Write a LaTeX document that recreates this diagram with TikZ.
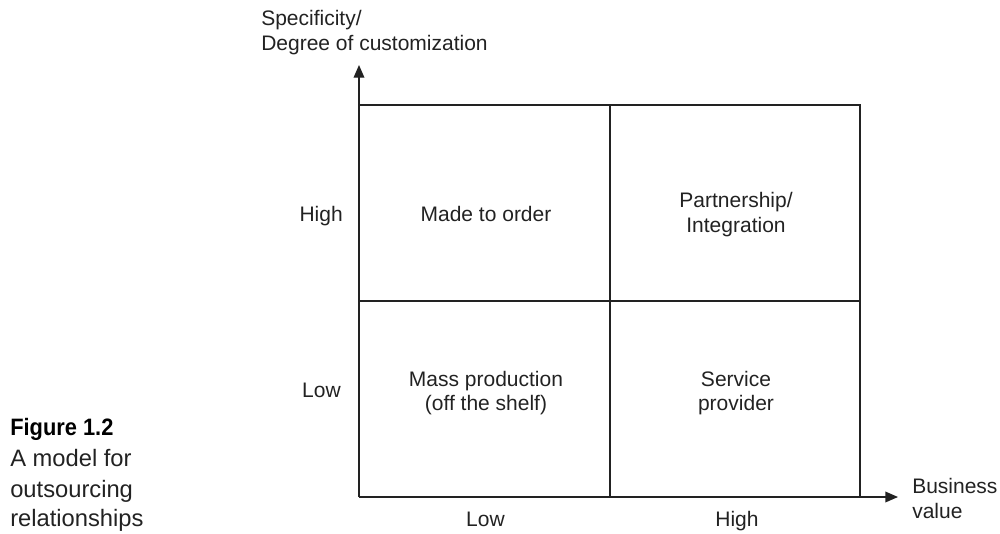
\documentclass[tikz,border=0pt]{standalone}
\usepackage{fontspec}
\setmainfont{Liberation Sans}
\newfontfamily\capfont{Liberation Sans}
\newfontfamily\capboldfont[FakeStretch=0.92]{Liberation Sans Bold}
\usetikzlibrary{arrows.meta}
\definecolor{ink}{HTML}{222222}
\definecolor{rule}{HTML}{222222}
\begin{document}
\begin{tikzpicture}[x=0.75pt,y=-0.75pt,
  lbl/.style={inner sep=0pt,anchor=base,text=ink,font=\fontsize{15.75}{18.75}\selectfont},
  lblL/.style={lbl,anchor=base west},
  lblR/.style={lbl,anchor=base east},
  captext/.style={inner sep=0pt,anchor=base west,text=ink,font=\capfont\fontsize{17.8}{22}\selectfont},
  captitle/.style={inner sep=0pt,anchor=base west,text=black,font=\capboldfont\fontsize{17.8}{22}\selectfont},
  gridline/.style={draw=rule,line width=1pt},
  axis/.style={draw=rule,line width=1pt,-{Triangle[length=9.5pt,width=8pt]}}]
\useasboundingbox (0,0) rectangle (1000,533);
% corners
\coordinate (O) at (359,497);
\coordinate (TL) at (359,105);
\coordinate (TR) at (860,105);
\coordinate (BR) at (860,497);
\coordinate (TM) at (610,105);
\coordinate (BM) at (610,497);
\coordinate (LM) at (359,301);
\coordinate (RM) at (860,301);
\coordinate (ytip) at (359,65);
\coordinate (xtip) at (898,497);
% grid
\draw[gridline] (TL) -- (TR) -- (BR);
\draw[gridline] (TM) -- (BM);
\draw[gridline] (LM) -- (RM);
% axes
\draw[axis] (O) -- (ytip);
\draw[axis] (O) -- (xtip);
% axis titles
\node[lblL] (yt1) at (261,25) {Specificity/};
\node[lblL] (yt2) at (261,50) {Degree of customization};
\node[lblL] (xt1) at (912,493) {Business};
\node[lblL] (xt2) at (912,518) {value};
% tick labels
\node[lblR] (yhigh) at (343,221) {High};
\node[lblR] (ylow) at (341,397) {Low};
\node[lbl] (xlow) at (485.5,526) {Low};
\node[lbl] (xhigh) at (737,526) {High};
% cell texts
\node[lbl] (c1) at (486,221) {Made to order};
\node[lbl] (c2a) at (736,207) {Partnership/};
\node[lbl] (c2b) at (736,232.5) {Integration};
\node[lbl] (c3a) at (486,386.5) {Mass production};
\node[lbl] (c3b) at (486,410.5) {(off the shelf)};
\node[lbl] (c4a) at (736,386) {Service};
\node[lbl] (c4b) at (736,410) {provider};
% caption
\node[captitle] (f1) at (10,435) {Figure 1.2};
\node[captext] (f2) at (10,466.5) {A model for};
\node[captext] (f3) at (10,497) {outsourcing};
\node[captext] (f4) at (10,526.5) {relationships};
\end{tikzpicture}
\end{document}
